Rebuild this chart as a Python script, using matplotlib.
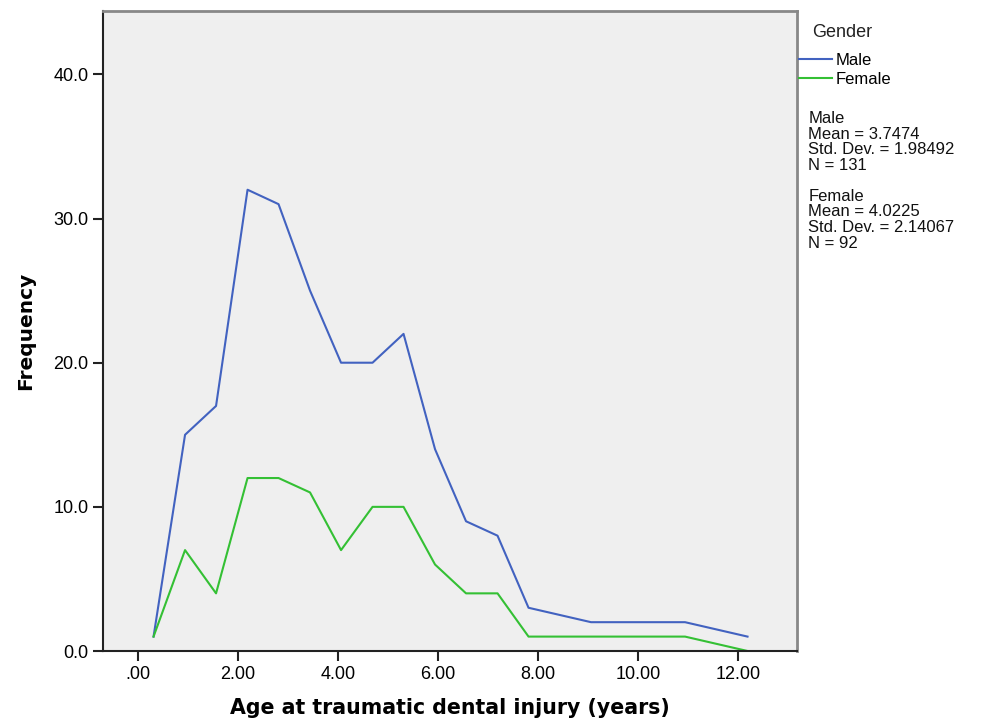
import matplotlib
matplotlib.use('Agg')
import matplotlib.pyplot as plt
from matplotlib.ticker import FuncFormatter

plt.rcParams['font.family'] = ['Liberation Sans', 'DejaVu Sans']

# bin midpoints (years) with non-empty counts
age = [0.31, 0.94, 1.56, 2.19, 2.81, 3.44, 4.06, 4.69, 5.31, 5.94,
       6.56, 7.19, 7.81, 9.06, 10.94, 12.19]
male = [1, 15, 17, 32, 31, 25, 20, 20, 22, 14, 9, 8, 3, 2, 2, 1]
female = [1, 7, 4, 12, 12, 11, 7, 10, 10, 6, 4, 4, 1, 1, 1, 0]

male_stats = "Male\nMean = 3.7474\nStd. Dev. = 1.98492\nN = 131"
female_stats = "Female\nMean = 4.0225\nStd. Dev. = 2.14067\nN = 92"

fig = plt.figure(figsize=(9.88, 7.18), dpi=100)
ax = fig.add_axes([0.1043, 0.0933, 0.7024, 0.8914])
ax.set_facecolor('#efefef')

ax.plot(age, male, color='#4262c0', lw=1.5, label='Male')
ax.plot(age, female, color='#34c034', lw=1.5, label='Female')

ax.set_xlim(-0.7, 13.18)
ax.set_ylim(0, 44.4)
ax.set_xticks([0, 2, 4, 6, 8, 10, 12])
ax.set_yticks([0, 10, 20, 30, 40])
ax.xaxis.set_major_formatter(FuncFormatter(lambda v, p: '.00' if v == 0 else '%.2f' % v))
ax.yaxis.set_major_formatter(FuncFormatter(lambda v, p: '%.1f' % v))
ax.tick_params(direction='out', length=7, width=1.5, labelsize=13, color='#222222')

for s in ['left', 'bottom']:
    ax.spines[s].set_color('#222222')
    ax.spines[s].set_linewidth(1.5)
for s in ['top', 'right']:
    ax.spines[s].set_color('#888888')
    ax.spines[s].set_linewidth(2)

ax.set_xlabel('Age at traumatic dental injury (years)', fontsize=14.8, fontweight='bold',
              family='DejaVu Sans', labelpad=11)
ax.set_ylabel('Frequency', fontsize=14.5, fontweight='bold', family='DejaVu Sans', labelpad=13)

fig.text(0.822, 0.955, 'Gender', fontsize=13, va='center', color='#222222')
leg = fig.legend(loc='upper left', bbox_to_anchor=(0.809, 0.926), frameon=False,
                 fontsize=12, handlelength=1.95, handletextpad=0.2,
                 labelspacing=0.25, borderaxespad=0, borderpad=0)
fig.text(0.818, 0.845, male_stats, fontsize=12, va='top', linespacing=1.05, color='#111111')
fig.text(0.818, 0.737, female_stats, fontsize=12, va='top', linespacing=1.05, color='#111111')

fig.savefig('out.png', dpi=100)
